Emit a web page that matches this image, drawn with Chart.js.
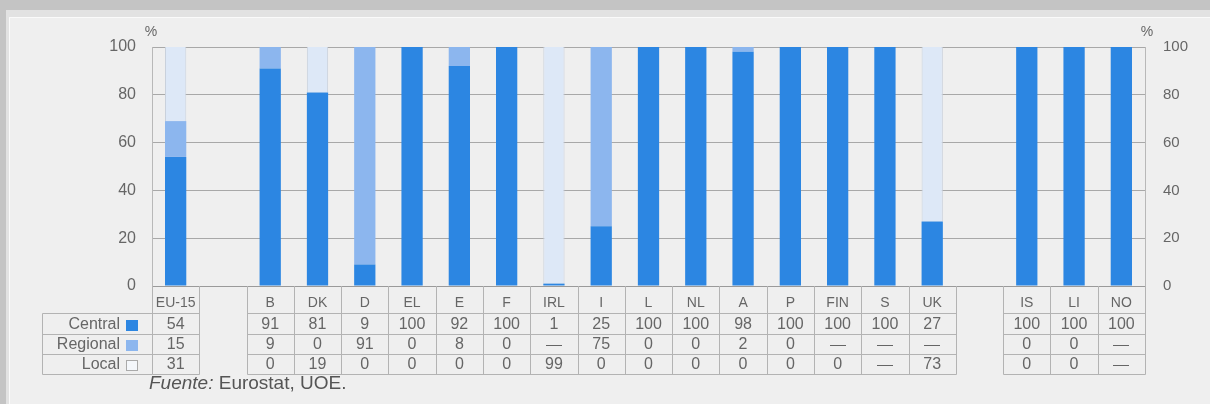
<!DOCTYPE html>
<html>
<head>
<meta charset="utf-8">
<script src="https://cdn.jsdelivr.net/npm/chart.js@4.4.1/dist/chart.umd.min.js"></script>
<style>
  html, body { margin: 0; padding: 0; background: #c9c9c9; }
  #wrap { width: 1210px; height: 404px; position: relative; }
  canvas { display: block; }
</style>
</head>
<body>
<div id="wrap"><canvas id="c" width="1210" height="404"></canvas></div>
<script>
// ---- data ----
const categories = ['EU-15', '', 'B', 'DK', 'D', 'EL', 'E', 'F', 'IRL', 'I', 'L', 'NL', 'A', 'P', 'FIN', 'S', 'UK', '', 'IS', 'LI', 'NO'];
const central  = [54, null, 91, 81, 9, 100, 92, 100, 1, 25, 100, 100, 98, 100, 100, 100, 27, null, 100, 100, 100];
const regional = [15, null, 9, 0, 91, 0, 8, 0, null, 75, 0, 0, 2, 0, null, null, null, null, 0, 0, null];
const local    = [31, null, 0, 19, 0, 0, 0, 0, 99, 0, 0, 0, 0, 0, 0, null, 73, null, 0, 0, null];
const yTicks = [0, 20, 40, 60, 80, 100];
const rowLabels = ['Central', 'Regional', 'Local'];
const sourceLabel = 'Fuente:';
const sourceText = ' Eurostat, UOE.';

const FONT = "'Liberation Sans', Arial, sans-serif";
const C_CENTRAL = '#2c86e2';
const C_REGIONAL = '#8cb6ee';
const C_LOCAL = '#dde8f7';
const TXT = '#666';

const bgPlugin = {
  id: 'bg',
  beforeDraw(chart) {
    const ctx = chart.ctx;
    ctx.save();
    ctx.fillStyle = '#c4c4c4';
    ctx.fillRect(0, 0, 1210, 404);
    ctx.fillStyle = '#e2e2e2';
    ctx.fillRect(6, 10, 1204, 394);
    ctx.fillStyle = '#efefef';
    ctx.fillRect(9, 17, 1201, 387);
    ctx.strokeStyle = '#fafafa';
    ctx.lineWidth = 1;
    ctx.beginPath();
    ctx.moveTo(9.5, 404); ctx.lineTo(9.5, 17.5); ctx.lineTo(1210, 17.5);
    ctx.stroke();
    ctx.restore();
  }
};

const tablePlugin = {
  id: 'table',
  afterDraw(chart) {
    const ctx = chart.ctx;
    const xs = chart.scales.x;
    const area = chart.chartArea;
    const n = categories.length;
    const w = (xs.right - xs.left) / n;
    const edge = i => Math.round(xs.left + i * w) + 0.5;
    const yHead = area.bottom;
    const rowY = [313, 334, 354, 374];
    const series = [central, regional, local];
    ctx.save();
    ctx.strokeStyle = '#b3b3b3';
    ctx.lineWidth = 1;

    // groups of consecutive non-empty categories
    const groups = [];
    let start = null;
    for (let i = 0; i <= n; i++) {
      const filled = i < n && categories[i] !== '';
      if (filled && start === null) start = i;
      if (!filled && start !== null) { groups.push([start, i - 1]); start = null; }
    }
    groups.forEach(([a, b]) => {
      ctx.beginPath();
      for (let i = a; i <= b + 1; i++) {
        ctx.moveTo(edge(i), yHead);
        ctx.lineTo(edge(i), rowY[3] + 0.5);
      }
      rowY.forEach(y => {
        ctx.moveTo(edge(a), y + 0.5);
        ctx.lineTo(edge(b + 1), y + 0.5);
      });
      ctx.stroke();
    });

    // row-label cell
    const labLeft = 42.5;
    ctx.beginPath();
    rowY.forEach(y => { ctx.moveTo(labLeft, y + 0.5); ctx.lineTo(edge(0), y + 0.5); });
    ctx.moveTo(labLeft, rowY[0] + 0.5); ctx.lineTo(labLeft, rowY[3] + 0.5);
    ctx.stroke();

    // values
    ctx.font = '16px ' + FONT;
    ctx.fillStyle = TXT;
    ctx.textAlign = 'center';
    ctx.textBaseline = 'middle';
    series.forEach((arr, r) => {
      const yc = (rowY[r] + rowY[r + 1]) / 2 + 1;
      for (let i = 0; i < n; i++) {
        if (categories[i] === '') continue;
        const v = arr[i];
        const cx = xs.getPixelForValue(i);
        if (v === null) {
          ctx.fillRect(Math.round(cx - 8), Math.round(yc), 16, 1);
        } else {
          ctx.fillText(String(v), cx, yc);
        }
      }
    });

    // row labels + swatches
    const swatch = [C_CENTRAL, C_REGIONAL, '#f4f7fb'];
    rowLabels.forEach((lab, r) => {
      const yc = (rowY[r] + rowY[r + 1]) / 2 + 1;
      ctx.textAlign = 'right';
      ctx.fillStyle = TXT;
      ctx.fillText(lab, 120, yc);
      ctx.fillStyle = swatch[r];
      ctx.fillRect(126, Math.round(yc - 5), 12, 11);
      if (r === 2) {
        ctx.strokeStyle = '#aaa';
        ctx.strokeRect(126.5, Math.round(yc - 5) + 0.5, 11, 10);
      }
    });

    // % markers
    ctx.font = '14px ' + FONT;
    ctx.fillStyle = TXT;
    ctx.textAlign = 'center';
    ctx.fillText('%', 151, 32);
    ctx.fillText('%', 1147, 32);

    // source
    ctx.textAlign = 'left';
    ctx.fillStyle = '#555';
    ctx.font = 'italic 19px ' + FONT;
    ctx.fillText(sourceLabel, 149, 384);
    const sw = ctx.measureText(sourceLabel).width;
    ctx.font = '19px ' + FONT;
    ctx.fillText(sourceText, 149 + sw, 384);
    ctx.restore();
  }
};

const gridColor = ctx => (ctx.tick && ctx.tick.value === 0) ? 'rgba(0,0,0,0)' : '#a8a8a8';

new Chart(document.getElementById('c'), {
  type: 'bar',
  data: {
    labels: categories,
    datasets: [
      { label: 'Central', data: central, backgroundColor: C_CENTRAL, yAxisID: 'y' },
      { label: 'Regional', data: regional, backgroundColor: C_REGIONAL, yAxisID: 'y' },
      { label: 'Local', data: local, backgroundColor: C_LOCAL, yAxisID: 'y',
        borderColor: '#c9d1dc', borderWidth: { left: 1, right: 1, top: 0, bottom: 0 }, borderSkipped: false }
    ]
  },
  options: {
    responsive: false,
    animation: false,
    events: [],
    layout: { padding: { top: 47, left: 0, right: 0, bottom: 0 } },
    datasets: { bar: { barPercentage: 0.45, categoryPercentage: 1.0 } },
    plugins: { legend: { display: false }, tooltip: { enabled: false } },
    scales: {
      x: {
        stacked: true,
        grid: { display: false, drawTicks: false },
        border: { display: true, color: '#9a9a9a' },
        ticks: { font: { family: FONT, size: 14 }, color: TXT, padding: 9, autoSkip: false, maxRotation: 0 },
        afterFit(s) { s.height = 118; }
      },
      y: {
        stacked: true,
        position: 'left',
        min: 0, max: 100,
        afterBuildTicks(s) { s.ticks = yTicks.map(v => ({ value: v })); },
        ticks: { font: { family: FONT, size: 16 }, color: TXT, padding: 16 },
        grid: { color: gridColor, drawTicks: false },
        border: { display: true, color: '#b8b8b8' },
        afterFit(s) { s.width = 152; }
      },
      y2: {
        position: 'right',
        min: 0, max: 100,
        afterBuildTicks(s) { s.ticks = yTicks.map(v => ({ value: v })); },
        ticks: { font: { family: FONT, size: 15 }, color: TXT, padding: 18 },
        grid: { display: false, drawTicks: false },
        border: { display: true, color: '#b8b8b8' },
        afterFit(s) { s.width = 65; }
      }
    }
  },
  plugins: [bgPlugin, tablePlugin]
});
</script>
</body>
</html>
